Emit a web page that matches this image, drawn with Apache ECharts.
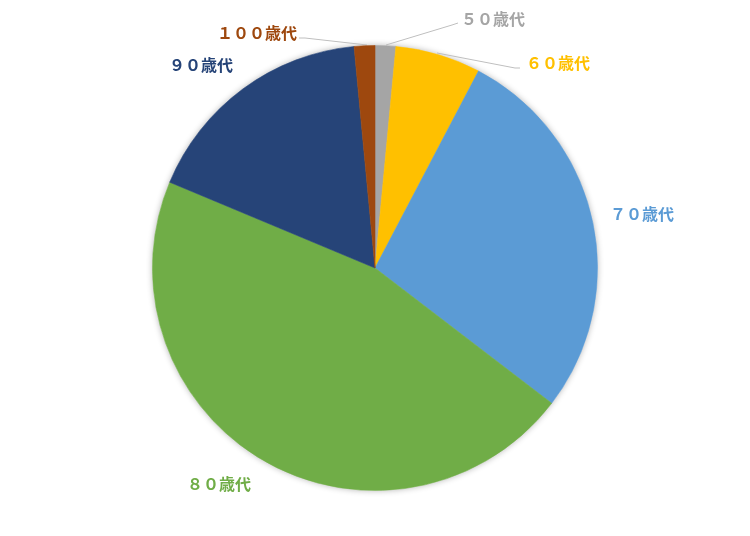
<!DOCTYPE html>
<html>
<head>
<meta charset="utf-8">
<script src="https://cdn.jsdelivr.net/npm/echarts@6/dist/echarts.min.js"></script>
<style>html,body{margin:0;padding:0;background:#fff;}#c{width:750px;height:536px;}</style>
</head>
<body>
<div id="c"></div>
<script>
var categories = ['５０歳代', '６０歳代', '７０歳代', '８０歳代', '９０歳代', '１００歳代'];
var values = [1.5, 6.2, 27.7, 45.9, 17.2, 1.5];
var colors = ['#A5A5A5', '#FFC000', '#5B9BD5', '#70AD47', '#264478', '#9E480E'];

// label anchor placement (style only)
var labelPos = [
  {x: 493, y: 19, line: [[386, 45], [452, 25], [458, 23]]},
  {x: 558, y: 63, line: [[437, 53], [515, 68], [520, 68]]},
  {x: 642, y: 214},
  {x: 219, y: 484},
  {x: 201, y: 65},
  {x: 257, y: 33, line: [[367, 45], [305, 38], [299, 38]]}
];

var chart = echarts.init(document.getElementById('c'), null, {renderer: 'canvas'});
var data = categories.map(function (name, i) {
  return {
    name: name,
    value: values[i],
    itemStyle: {color: colors[i], borderColor: colors[i], borderWidth: 0.6},
    label: {color: colors[i]},
    labelLine: {show: !!labelPos[i].line}
  };
});
chart.setOption({
  animation: false,
  series: [{
    type: 'pie',
    silent: true,
    z: 1,
    center: [375, 268],
    radius: 222.5,
    data: [{value: 1, name: 'bg'}],
    label: {show: false},
    labelLine: {show: false},
    itemStyle: {
      color: '#ffffff',
      borderWidth: 0,
      shadowBlur: 6,
      shadowColor: 'rgba(0,0,0,0.3)'
    }
  }, {
    type: 'pie',
    z: 2,
    center: [375, 268],
    radius: 222.5,
    startAngle: 90,
    clockwise: true,
    data: data,
    emphasis: {disabled: true},
    label: {
      show: true,
      position: 'outside',
      formatter: '{b}',
      fontFamily: '"Noto Sans CJK JP", sans-serif',
      fontSize: 16,
      fontWeight: 'bold'
    },
    labelLine: {
      show: true,
      lineStyle: {color: '#BFBFBF', width: 1}
    },
    labelLayout: function (params) {
      var p = labelPos[params.dataIndex];
      var r = {x: p.x, y: p.y, align: 'center', verticalAlign: 'middle'};
      if (p.line) r.labelLinePoints = p.line;
      return r;
    }
  }]
});
</script>
</body>
</html>
